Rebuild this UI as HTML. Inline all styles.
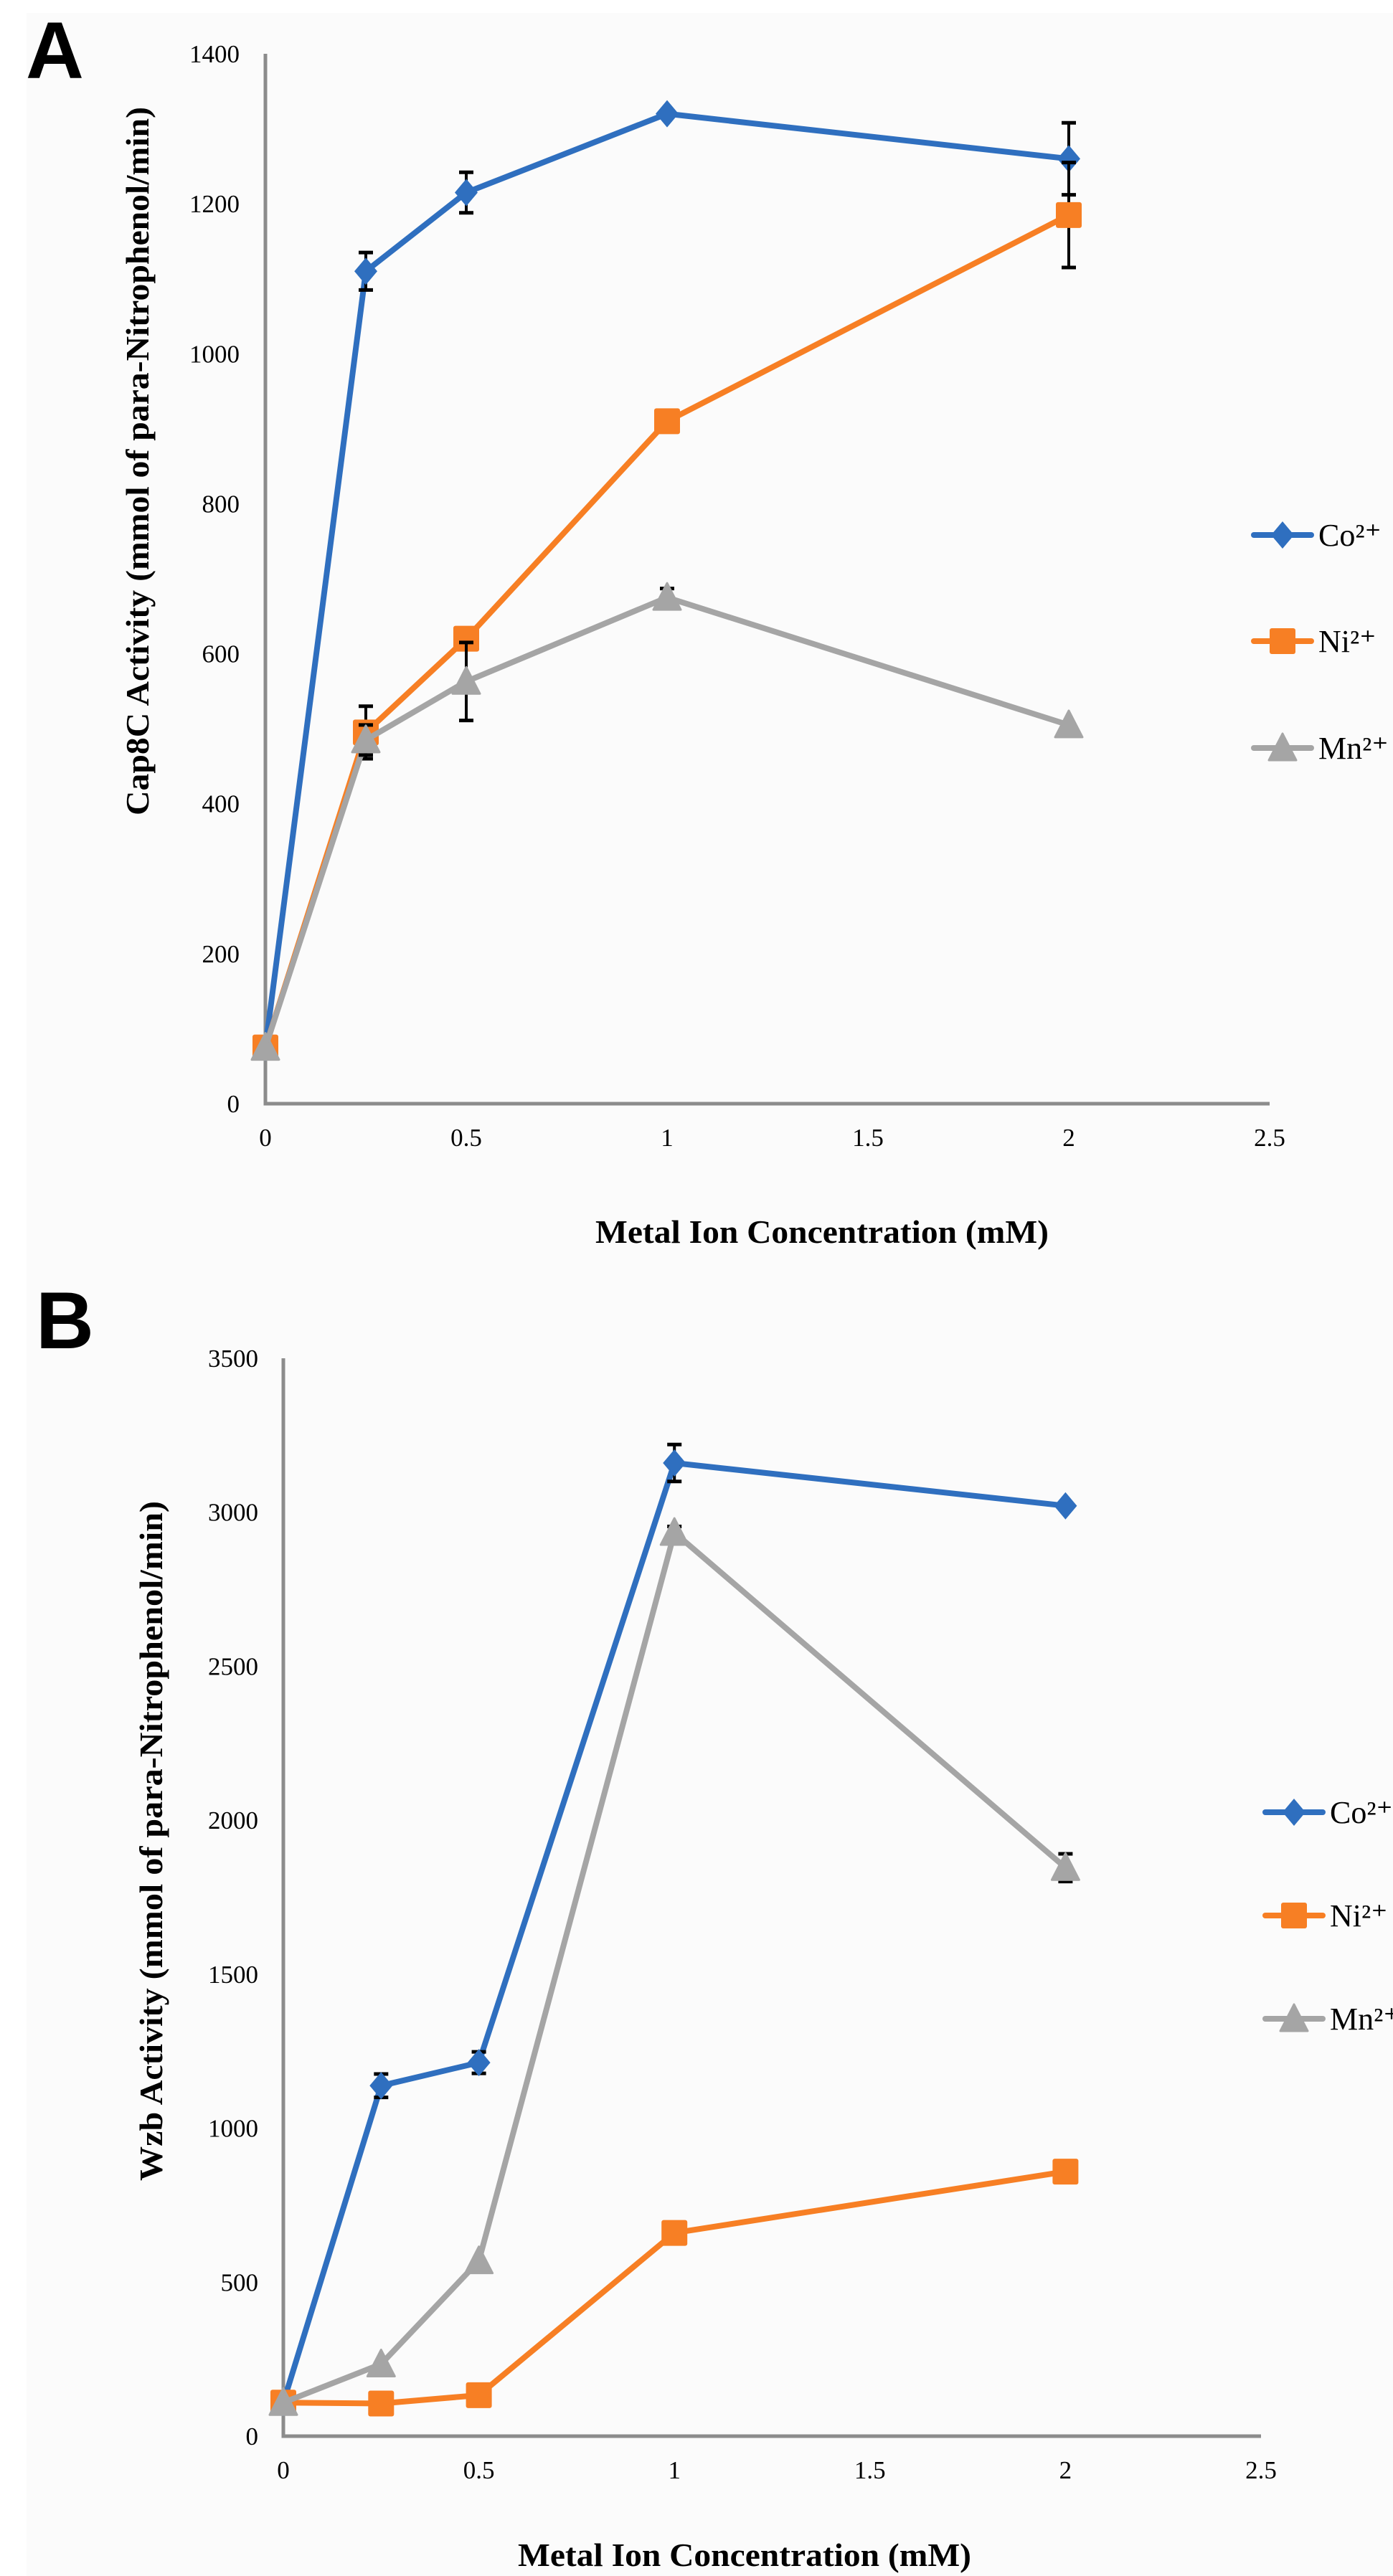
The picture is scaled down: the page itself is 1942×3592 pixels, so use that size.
<!DOCTYPE html>
<html><head><meta charset="utf-8">
<style>
html,body{margin:0;padding:0;background:#fff;}
svg{display:block;}
text{font-family:"Liberation Serif",serif;fill:#000;}
.panel{font-family:"Liberation Sans",sans-serif;font-weight:bold;}
</style></head>
<body>
<svg id="fig" width="1942" height="3592" viewBox="0 0 1942 3592">
<rect x="0" y="0" width="1942" height="3592" fill="#fff"/>
<rect x="37" y="18" width="1905" height="3574" fill="#fbfbfb"/>
</svg>
<script>
// ---- shared x categories
const xValues = [0, 0.25, 0.5, 1, 2];
const xTicks = [0, 0.5, 1, 1.5, 2, 2.5];
const xTickLabels = ["0", "0.5", "1", "1.5", "2", "2.5"];
const seriesNames = ["Co²⁺", "Ni²⁺", "Mn²⁺"];

// ---- Panel A (Cap8C)
const aTicks = [0, 200, 400, 600, 800, 1000, 1200, 1400];
const aCo = [75, 1110, 1215, 1320, 1260];
const aNi = [75, 495, 620, 910, 1185];
const aMn = [75, 485, 563, 675, 505];
const aCoErr = [0, 25, 27, 0, 48];
const aNiErr = [0, 35, 0, 0, 70];
const aMnErr = [0, 20, 52, 12, 0];

// ---- Panel B (Wzb)
const bTicks = [0, 500, 1000, 1500, 2000, 2500, 3000, 3500];
const bCo = [109, 1138, 1213, 3160, 3021];
const bNi = [109, 106, 133, 660, 859];
const bMn = [109, 234, 569, 2934, 1846];
const bCoErr = [0, 38, 35, 60, 0];
const bNiErr = [0, 0, 0, 0, 0];
const bMnErr = [0, 0, 0, 20, 45];

const NS = "http://www.w3.org/2000/svg";
const svg = document.getElementById("fig");
const COLORS = ["#2f6fbf", "#f77f24", "#a5a5a5"];
const SHAPES = ["diamond", "square", "triangle"];

function mk(tag, attrs, parent) {
  const e = document.createElementNS(NS, tag);
  for (const k in attrs) e.setAttribute(k, attrs[k]);
  (parent || svg).appendChild(e);
  return e;
}

function marker(g, shape, cx, cy, color) {
  let m;
  if (shape === "diamond") {
    m = mk("polygon", {points: `${cx},${cy-19} ${cx+16},${cy} ${cx},${cy+19} ${cx-16},${cy}`, fill: color}, g);
  } else if (shape === "square") {
    m = mk("rect", {x: cx-18, y: cy-18, width: 36, height: 36, rx: 3, fill: color}, g);
  } else {
    m = mk("polygon", {points: `${cx},${cy-20} ${cx+19},${cy+17} ${cx-19},${cy+17}`, fill: color, "stroke": color, "stroke-width": 3, "stroke-linejoin": "round"}, g);
  }
  return m;
}

function drawChart(cfg) {
  const g = mk("g", {});
  
  
  const X = v => cfg.x0 + (v - 0) / 2.5 * (cfg.x1 - cfg.x0);
  const Y = v => cfg.y0 - v / cfg.ymax * (cfg.y0 - cfg.y1);

  const pl = mk("text", {x: cfg.letterX, y: cfg.letterY, "font-size": 112, class: "panel"}, g);
  pl.textContent = cfg.letter;
  
  

  const ya = mk("line", {x1: cfg.x0, y1: cfg.y1, x2: cfg.x0, y2: cfg.y0 + 2.5, stroke: "#8c8c8c", "stroke-width": 5}, g);
  
  
  const xa = mk("line", {x1: cfg.x0 - 2.5, y1: cfg.y0, x2: cfg.x1, y2: cfg.y0, stroke: "#8c8c8c", "stroke-width": 5}, g);
  
  

  cfg.yTicks.forEach(t => {
    const tl = mk("text", {x: cfg.yLabelX, y: Y(t) + 12, "font-size": 35, "text-anchor": "end"}, g);
    tl.textContent = String(t);
    
    
  });
  xTicks.forEach((t, i) => {
    const tl = mk("text", {x: X(t), y: cfg.y0 + 59, "font-size": 35, "text-anchor": "middle"}, g);
    tl.textContent = xTickLabels[i];
    
    
  });

  const xt = mk("text", {x: cfg.xTitleX, y: cfg.xTitleY, "font-size": 46, "font-weight": "bold", "text-anchor": "middle", textLength: 632, lengthAdjust: "spacingAndGlyphs"}, g);
  xt.textContent = "Metal Ion Concentration (mM)";
  
  
  const yt = mk("text", {x: 0, y: 0, "font-size": 46, "font-weight": "bold", "text-anchor": "middle", textLength: cfg.yTitleLen, lengthAdjust: "spacingAndGlyphs", transform: `translate(${cfg.yTitleX},${cfg.yTitleY}) rotate(-90)`}, g);
  yt.textContent = cfg.yTitle;
  
  

  cfg.series.forEach((vals, si) => {
    const sg = mk("g", {}, g);
    
    
    const pts = vals.map((v, i) => `${X(xValues[i])},${Y(v)}`).join(" ");
    const pl2 = mk("polyline", {points: pts, fill: "none", stroke: COLORS[si], "stroke-width": 8, "stroke-linejoin": "round", "stroke-linecap": "round"}, sg);
    
    
    vals.forEach((v, i) => {
      const e = cfg.errs[si][i];
      if (e > 0) {
        const eg = mk("g", {stroke: "#000", "stroke-width": 4}, sg);
        
        
        const cx = X(xValues[i]);
        mk("line", {x1: cx, y1: Y(v - e), x2: cx, y2: Y(v + e)}, eg);
        mk("line", {x1: cx - 10, y1: Y(v - e), x2: cx + 10, y2: Y(v - e), "stroke-width": 5}, eg);
        mk("line", {x1: cx - 10, y1: Y(v + e), x2: cx + 10, y2: Y(v + e), "stroke-width": 5}, eg);
      }
      const m = marker(sg, SHAPES[si], X(xValues[i]), Y(v), COLORS[si]);
      
      
    });
  });

  const lg = mk("g", {}, g);
  
  
  seriesNames.forEach((n, si) => {
    const ly = cfg.legendY[si];
    const eg = mk("g", {}, lg);
    
    
    mk("line", {x1: cfg.legendX, y1: ly, x2: cfg.legendX + 80, y2: ly, stroke: COLORS[si], "stroke-width": 8, "stroke-linecap": "round"}, eg);
    marker(eg, SHAPES[si], cfg.legendX + 40, ly, COLORS[si]);
    const t = mk("text", {x: cfg.legendX + 90, y: ly + 15, "font-size": 44}, eg);
    t.textContent = n;
  });
}

drawChart({
  name: "chart-a-cap8c", letter: "A", letterX: 36, letterY: 109,
  x0: 370, x1: 1770, y0: 1539, y1: 75, ymax: 1400, yTicks: aTicks, yLabelX: 334,
  xTitleX: 1146, xTitleY: 1733, yTitleX: 207, yTitleY: 643, yTitleLen: 988,
  yTitle: "Cap8C Activity (mmol of para-Nitrophenol/min)",
  series: [aCo, aNi, aMn], errs: [aCoErr, aNiErr, aMnErr],
  legendX: 1748, legendY: [746, 894, 1043]
});
drawChart({
  name: "chart-b-wzb", letter: "B", letterX: 50, letterY: 1880,
  x0: 395, x1: 1758, y0: 3397, y1: 1894, ymax: 3500, yTicks: bTicks, yLabelX: 360,
  xTitleX: 1038, xTitleY: 3578, yTitleX: 226, yTitleY: 2567, yTitleLen: 948,
  yTitle: "Wzb Activity (mmol of para-Nitrophenol/min)",
  series: [bCo, bNi, bMn], errs: [bCoErr, bNiErr, bMnErr],
  legendX: 1764, legendY: [2527, 2671, 2815]
});
</script>
</body></html>
